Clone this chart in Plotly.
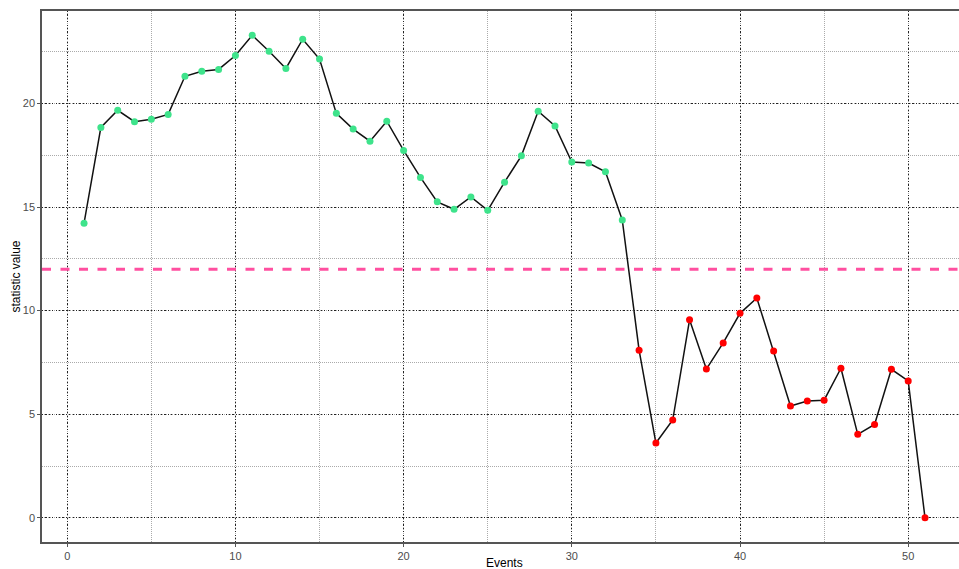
import plotly.graph_objects as go

# Statistic value per event
events = list(range(1, 52))
stat_values = [
    14.22, 18.84, 19.67, 19.12, 19.24, 19.47, 21.31, 21.55, 21.64, 22.31,
    23.29, 22.52, 21.69, 23.10, 22.14, 19.52, 18.76, 18.18, 19.14, 17.73,
    16.43, 15.25, 14.89, 15.49, 14.84, 16.20, 17.47, 19.62, 18.91, 17.17,
    17.12, 16.70, 14.38, 8.09, 3.61, 4.72, 9.56, 7.18, 8.44, 9.87,
    10.61, 8.05, 5.40, 5.64, 5.68, 7.22, 4.03, 4.51, 7.17, 6.61,
    0.0,
]
threshold = 12

x_ticks = [0, 10, 20, 30, 40, 50]
y_ticks = [0, 5, 10, 15, 20]

point_colors = ["#3EE38B" if v >= threshold else "#FF0000" for v in stat_values]

fig = go.Figure()

# Threshold line
fig.add_trace(go.Scatter(
    x=[-1.5, 53.5], y=[threshold, threshold], mode="lines",
    line=dict(color="#FF4FA0", width=3, dash="9px,9.5px"),
    hoverinfo="skip", showlegend=False,
))

fig.add_trace(go.Scatter(
    x=events, y=stat_values, mode="lines",
    line=dict(color="#111111", width=1.5),
    showlegend=False,
))
fig.add_trace(go.Scatter(
    x=events, y=stat_values, mode="markers",
    marker=dict(color=point_colors, size=7, line=dict(width=0)),
    showlegend=False,
))

axis_font = dict(family="Liberation Sans, Arial, sans-serif", size=11, color="#4D4D4D")
major_grid = dict(showgrid=True, gridcolor="#222222", gridwidth=1.2, griddash="1.2px,2.2px")
minor_grid = dict(showgrid=True, gridcolor="#AAAAAA", gridwidth=1, griddash="1px,1px", ticks="")

fig.update_layout(
    width=959, height=569,
    margin=dict(l=42, r=0, t=11, b=27),
    paper_bgcolor="white", plot_bgcolor="white",
    font=dict(family="Liberation Sans, Arial, sans-serif", color="black"),
    xaxis=dict(
        range=[-1.5, 53.02], tickvals=x_ticks, ticktext=[str(t) for t in x_ticks],
        **major_grid,
        minor=dict(dtick=5, tick0=0, **minor_grid),
        showline=True, linecolor="#555555", linewidth=1.5, mirror=True,
        ticks="outside", ticklen=3, tickcolor="#555555", tickfont=axis_font,
        ticklabelstandoff=0,
        zeroline=False,
    ),
    yaxis=dict(
        range=[-1.165, 24.46], tickvals=y_ticks, ticktext=[str(t) for t in y_ticks],
        **major_grid,
        minor=dict(dtick=2.5, tick0=0, **minor_grid),
        showline=True, linecolor="#555555", linewidth=1.5,
        ticks="outside", ticklen=3, tickcolor="#555555", tickfont=axis_font,
        zeroline=False,
    ),
    annotations=[
        dict(text="Events", xref="paper", yref="paper", x=0.504, y=0,
             yshift=-12, xanchor="center", yanchor="top", showarrow=False,
             font=dict(size=12, color="black")),
        dict(text="statistic value", xref="paper", yref="paper", x=0, y=0.5,
             xshift=-18, xanchor="right", yanchor="middle", textangle=-90,
             showarrow=False, font=dict(size=12, color="black")),
    ],
)

fig.write_html("out.html")
